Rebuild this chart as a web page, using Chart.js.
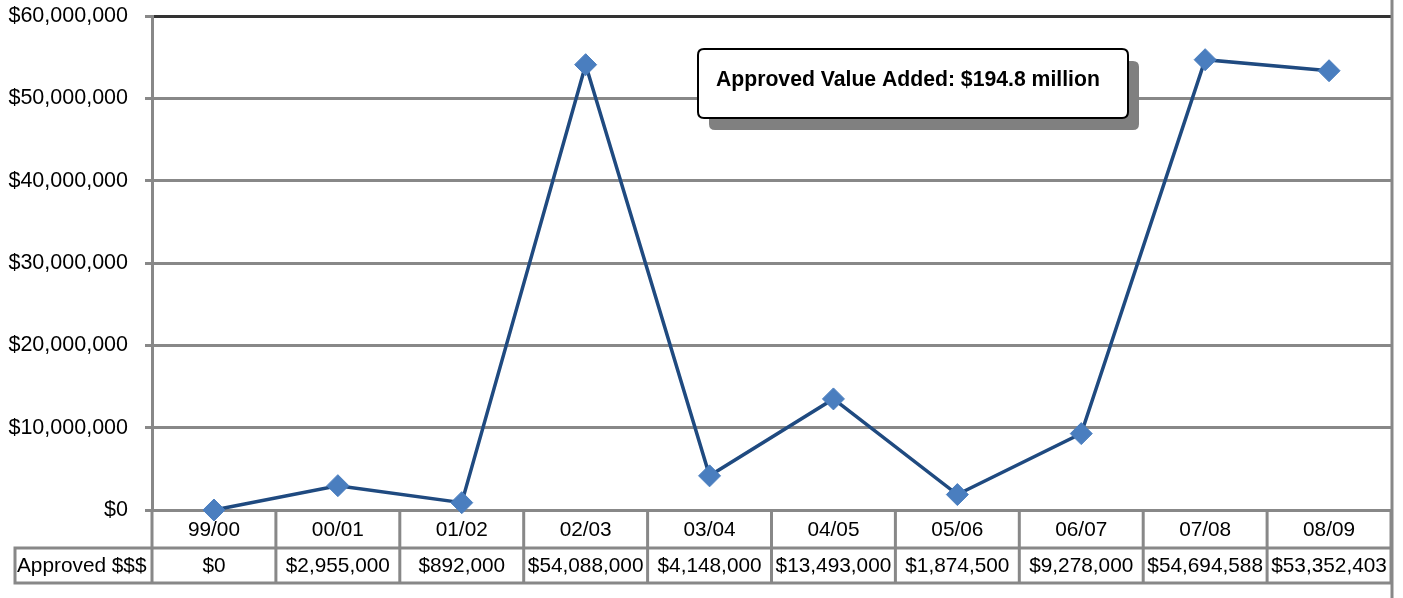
<!DOCTYPE html>
<html>
<head>
<meta charset="utf-8">
<script src="https://cdn.jsdelivr.net/npm/chart.js@4.4.0/dist/chart.umd.min.js"></script>
<style>
  html, body { margin: 0; padding: 0; background: #fff; }
  #wrap { width: 1403px; height: 598px; }
</style>
</head>
<body>
<div id="wrap"><canvas id="c" width="1403" height="598"></canvas></div>
<script>
const categories = ['99/00', '00/01', '01/02', '02/03', '03/04', '04/05', '05/06', '06/07', '07/08', '08/09'];
const approvedValues = [0, 2955000, 892000, 54088000, 4148000, 13493000, 1874500, 9278000, 54694588, 53352403];
const approvedLabels = ['$0', '$2,955,000', '$892,000', '$54,088,000', '$4,148,000', '$13,493,000', '$1,874,500', '$9,278,000', '$54,694,588', '$53,352,403'];
const yTickLabels = ['$0', '$10,000,000', '$20,000,000', '$30,000,000', '$40,000,000', '$50,000,000', '$60,000,000'];
const seriesName = 'Approved $$$';
const annotationText = 'Approved Value Added: $194.8 million';

const FONT = "'Liberation Sans', Arial, sans-serif";
const GRID = '#888888';

const tablePlugin = {
  id: 'dataTable',
  beforeDatasetsDraw(chart) {
    const ctx = chart.ctx;
    const area = chart.chartArea;
    const xs = chart.scales.x;
    const n = categories.length;
    const colW = (area.right - area.left) / n;
    const r1Top = area.bottom, r1Bot = area.bottom + 38, r2Bot = area.bottom + 73;
    const labelLeft = 15;
    ctx.save();
    ctx.strokeStyle = GRID;
    ctx.lineWidth = 3;
    ctx.beginPath();
    ctx.moveTo(labelLeft - 1.5, r1Bot); ctx.lineTo(area.right, r1Bot);
    ctx.moveTo(labelLeft - 1.5, r2Bot); ctx.lineTo(area.right, r2Bot);
    for (let i = 0; i <= n; i++) {
      const x = area.left + i * colW;
      ctx.moveTo(x, r1Top); ctx.lineTo(x, r2Bot + 1.5);
    }
    ctx.moveTo(labelLeft, r1Bot); ctx.lineTo(labelLeft, r2Bot + 1.5);
    ctx.stroke();
    ctx.beginPath();
    ctx.moveTo(area.right + 1, 0); ctx.lineTo(area.right + 1, chart.height);
    ctx.stroke();
    ctx.fillStyle = '#000';
    ctx.font = '20.8px ' + FONT;
    ctx.textBaseline = 'middle';
    ctx.textAlign = 'center';
    for (let i = 0; i < n; i++) {
      const cx = xs.getPixelForValue(i);
      ctx.fillText(categories[i], cx, (r1Top + r1Bot) / 2 + 1);
      ctx.fillText(approvedLabels[i], cx, (r1Bot + r2Bot) / 2 + 1);
    }
    ctx.textAlign = 'left';
    ctx.fillText(seriesName, labelLeft + 2, (r1Bot + r2Bot) / 2 + 1);
    ctx.restore();
  }
};

function roundRect(ctx, x, y, w, h, r) {
  ctx.beginPath();
  ctx.moveTo(x + r, y);
  ctx.lineTo(x + w - r, y);
  ctx.quadraticCurveTo(x + w, y, x + w, y + r);
  ctx.lineTo(x + w, y + h - r);
  ctx.quadraticCurveTo(x + w, y + h, x + w - r, y + h);
  ctx.lineTo(x + r, y + h);
  ctx.quadraticCurveTo(x, y + h, x, y + h - r);
  ctx.lineTo(x, y + r);
  ctx.quadraticCurveTo(x, y, x + r, y);
  ctx.closePath();
}

const annotationPlugin = {
  id: 'annotationBox',
  afterDraw(chart) {
    const ctx = chart.ctx;
    const x = 698, y = 49, w = 430, h = 69;
    ctx.save();
    ctx.fillStyle = '#808080';
    roundRect(ctx, x + 11, y + 12, w, h, 6);
    ctx.fill();
    ctx.fillStyle = '#ffffff';
    roundRect(ctx, x, y, w, h, 6);
    ctx.fill();
    ctx.strokeStyle = '#000';
    ctx.lineWidth = 2;
    ctx.stroke();
    ctx.fillStyle = '#000';
    ctx.font = 'bold 21.2px ' + FONT;
    ctx.textBaseline = 'middle';
    ctx.textAlign = 'left';
    ctx.fillText(annotationText, x + 18, y + 31);
    ctx.restore();
  }
};

new Chart(document.getElementById('c'), {
  type: 'line',
  data: {
    labels: categories,
    datasets: [{
      label: seriesName,
      data: approvedValues,
      borderColor: '#1f4a80',
      borderWidth: 3.5,
      pointStyle: 'rectRot',
      pointRadius: 11,
      pointHoverRadius: 11,
      pointBackgroundColor: '#4a7ebf',
      pointBorderColor: '#4a7ebf',
      pointBorderWidth: 1,
      tension: 0,
      clip: false
    }]
  },
  options: {
    responsive: false,
    animation: false,
    events: [],
    layout: { padding: { top: 16, right: 11, left: 0, bottom: 0 } },
    plugins: { legend: { display: false }, tooltip: { enabled: false } },
    scales: {
      x: {
        offset: true,
        grid: { display: false },
        border: { display: false },
        ticks: { display: false },
        afterFit(scale) { scale.height = 88; scale.paddingLeft = 0; scale.paddingRight = 0; }
      },
      y: {
        min: 0,
        max: 60000000,
        ticks: {
          stepSize: 10000000,
          padding: 17,
          color: '#000',
          font: { family: FONT, size: 21.5 },
          callback: (v, i) => yTickLabels[i]
        },
        grid: {
          color: (c) => (c.tick && c.tick.value === 60000000) ? '#333333' : GRID,
          lineWidth: 3,
          tickLength: 7,
          tickColor: GRID
        },
        border: { display: true, color: GRID, width: 3 },
        afterFit(scale) { scale.width = 152; scale.paddingTop = 0; scale.paddingBottom = 0; }
      }
    }
  },
  plugins: [tablePlugin, annotationPlugin]
});
</script>
</body>
</html>
